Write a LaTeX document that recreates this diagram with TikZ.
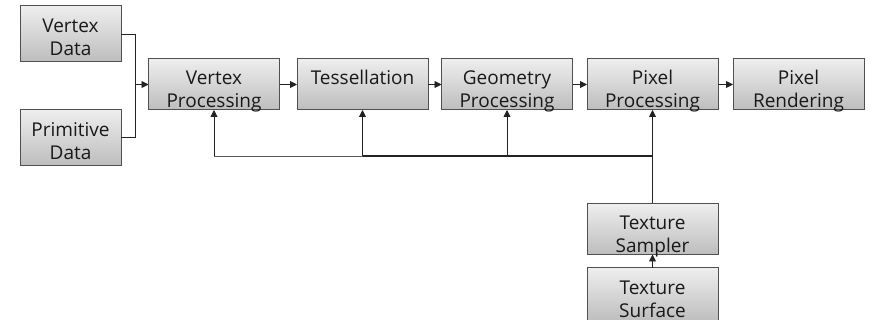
\documentclass[tikz,border=0pt]{standalone}
\usepackage{fontspec}
\setmainfont{Open Sans}
\usetikzlibrary{arrows.meta}
\definecolor{boxtop}{HTML}{EEEEEE}
\definecolor{boxbot}{HTML}{BDBDBD}
\definecolor{boxline}{HTML}{505050}
\definecolor{wire}{HTML}{222222}
\tikzset{
  stagebox/.style={draw=boxline, line width=1pt, top color=boxtop, bottom color=boxbot,
    minimum width=131pt, minimum height=51pt, inner sep=0pt, outer sep=0pt},
  databox/.style={stagebox, minimum width=101pt, minimum height=56pt},
  txt/.style={font=\fontsize{19}{23}\selectfont, align=center, inner sep=0pt, anchor=base, text=black!90},
  conn/.style={draw=wire, line width=0.9pt},
  arr/.style={conn, -{Triangle[length=7pt,width=7pt]}},
  busthick/.style={draw=wire, line width=1.8pt},
  busthin/.style={draw=black!65, line width=0.9pt},
}
\begin{document}
\begin{tikzpicture}[x=1pt,y=-1pt]
\useasboundingbox (0,0) rectangle (870,320);
% boxes
\node[databox] (vd) at (70.5,34) {};
\node[databox] (pd) at (70.5,137.5) {};
\node[stagebox] (vp) at (214,84.5) {};
\node[stagebox] (te) at (362.5,84.5) {};
\node[stagebox] (gp) at (507,84.5) {};
\node[stagebox] (pp) at (652.5,84.5) {};
\node[stagebox] (pr) at (798.5,84.5) {};
\node[stagebox] (ts) at (652.5,229) {};
\node[stagebox, minimum height=54pt] (su) at (652.5,295) {};
% texts (base anchor = baseline of last line)
\node[txt] (vdt) at ([yshift=-50pt]vd.north) {Vertex\\Data};
\node[txt] (pdt) at ([yshift=-50pt]pd.north) {Primitive\\Data};
\node[txt] (vpt) at ([yshift=-49pt]vp.north) {Vertex\\Processing};
\node[txt] (tet) at ([yshift=-26pt]te.north) {Tessellation};
\node[txt] (gpt) at ([yshift=-49pt]gp.north) {Geometry\\Processing};
\node[txt] (ppt) at ([yshift=-49pt]pp.north) {Pixel\\Processing};
\node[txt] (prt) at ([yshift=-49pt]pr.north) {Pixel\\Rendering};
\node[txt] (tst) at ([yshift=-49pt]ts.north) {Texture\\Sampler};
\node[txt] (sut) at ([yshift=-49pt]su.north) {Texture\\Surface};
% connectors
\coordinate (j) at (135,84.5);
\draw[conn] (vd.east) -| (j);
\draw[conn] (pd.east) -| (j);
\draw[arr] (j) -- (vp.west);
\draw[arr] (vp) -- (te);
\draw[arr] (te) -- (gp);
\draw[arr] (gp) -- (pp);
\draw[arr] (pp) -- (pr);
% bus
\coordinate (b0) at (vp.south |- 0,156);
\coordinate (b1) at (te.south |- 0,156);
\coordinate (b2) at (gp.south |- 0,156);
\coordinate (b3) at (pp.south |- 0,156);
\draw[busthin] (b0) -- (b1);
\draw[busthick] (b1) -- (b3);
\draw[busthick] (ts.north) -- (b3);
\draw[arr] (b0) -- (vp.south);
\draw[arr] (b1) -- (te.south);
\draw[arr] (b2) -- (gp.south);
\draw[arr] (b3) -- (pp.south);
\draw[arr] (su.north) -- (ts.south);
\end{tikzpicture}
\end{document}
